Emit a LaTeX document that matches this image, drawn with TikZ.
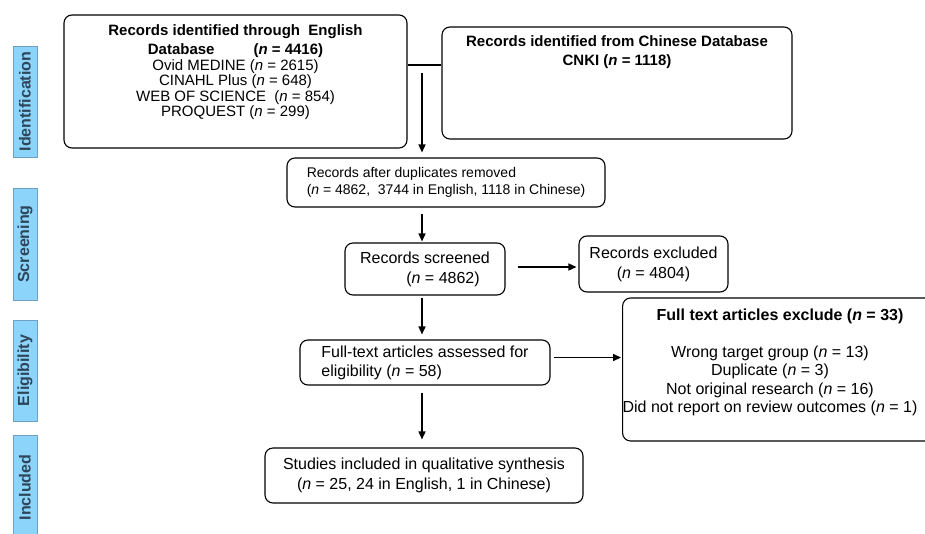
\documentclass[tikz,border=0pt]{standalone}
\usepackage{fontspec}
\setmainfont{Liberation Sans}
\usetikzlibrary{arrows.meta,positioning,calc}

\definecolor{barblue}{RGB}{141,212,251}
\definecolor{barline}{RGB}{110,160,195}
\definecolor{bartext}{RGB}{45,70,90}

\tikzset{
  box/.style={draw, rounded corners=8pt, line width=1.1pt, inner sep=0pt},
  arr/.style={-{Triangle[length=8pt,width=7pt]}, line width=1.4pt},
  phase/.style={draw=barline, fill=barblue, text=bartext, rotate=90, minimum height=24pt,
    inner sep=0pt, font=\fontsize{16}{18}\selectfont\bfseries},
}

\begin{document}
\begin{tikzpicture}[x=1pt, y=-1pt]
    \useasboundingbox (0,0) rectangle (925,533);

    % Phase bars
    \node[phase, minimum width=111pt] (pid) at (25,101.5) {Identification};
    \node[phase, minimum width=112pt] (pscr) at (25,244) {Screening};
    \node[phase, minimum width=101pt] (pelig) at (25,370.5) {Eligibility};
    \node[phase, minimum width=105pt] (pinc) at (25,487.5) {Included};

    % Identification
    \node[box, minimum width=343pt, minimum height=133pt, align=center,
      font=\fontsize{15}{15.5}\selectfont] (eng) at (235.5,81.5)
      {\textbf{Records identified through\ \ English}\\[4pt]
       \textbf{Database\hspace{39pt}(\textit{n} = 4416)}\\
       Ovid MEDINE (\textit{n} = 2615)\\
       CINAHL Plus (\textit{n} = 648)\\
       WEB OF SCIENCE\ \ (\textit{n} = 854)\\
       PROQUEST (\textit{n} = 299)\\[6pt]\mbox{}};
    \node[box, minimum width=350pt, minimum height=112pt, align=center,
      font=\fontsize{15}{19}\selectfont] (chn) at (617,83)
      {\textbf{Records identified from Chinese Database}\\
       \textbf{CNKI (\textit{n} = 1118)}\\[45pt]\mbox{}};

    % Screening
    \node[box, minimum width=318pt, minimum height=49pt, align=left,
      font=\fontsize{14}{17}\selectfont] (dup) at (446,182.5)
      {Records after duplicates removed\\
       (\textit{n} = 4862,\ \ 3744 in English, 1118 in Chinese)};
    \node[box, minimum width=160pt, minimum height=52pt, align=center,
      font=\fontsize{16}{20}\selectfont] (scr) at (425,269)
      {Records screened\\\hspace*{36pt}(\textit{n} = 4862)};
    \node[box, minimum width=149pt, minimum height=56pt, align=center,
      font=\fontsize{16}{20}\selectfont] (exc) at (653.5,264)
      {Records excluded\\(\textit{n} = 4804)};

    % Eligibility
    \node[box, minimum width=250pt, minimum height=45pt, align=left,
      font=\fontsize{16}{19}\selectfont] (ful) at (425,362.5)
      {Full-text articles assessed for\\eligibility (\textit{n} = 58)};
    \node[box, minimum width=317pt, minimum height=143pt,
      font=\fontsize{16}{18.5}\selectfont] (fex) at (781.5,369.5)
      {\begin{tabular}{@{}c@{}}
       \hspace{20pt}\textbf{Full text articles exclude (\textit{n} = 33)}\\[18pt]
       Wrong target group (\textit{n} = 13)\\
       Duplicate (\textit{n} = 3)\\
       Not original research (\textit{n} = 16)\\
       Did not report on review outcomes (\textit{n} = 1)\\[13pt]
       \end{tabular}\rule{23pt}{0pt}};

    % Included
    \node[box, minimum width=318pt, minimum height=55pt, align=center,
      font=\fontsize{16}{20}\selectfont] (stu) at (424,475.5)
      {Studies included in qualitative synthesis\\
       (\textit{n} = 25, 24 in English, 1 in Chinese)};

    % Connectors
    \coordinate (join) at (422,65);
    \draw[line width=1.1pt] (eng.east |- join) -- (chn.west |- join);
    \draw[arr, shorten <=8pt, shorten >=5pt] (join) -- (join |- dup.north);
    \draw[arr, shorten <=6pt, shorten >=1pt] (dup.south -| join) -- (scr.north -| join);
    \draw[arr, shorten <=12pt, shorten >=2pt] ([yshift=2pt]scr.east) -- ([yshift=2pt]scr.east -| exc.west);
    \draw[arr, shorten <=2pt, shorten >=5pt] (scr.south -| join) -- (ful.north -| join);
    \draw[arr, shorten <=3pt, shorten >=1pt] ([yshift=5pt]ful.east) -- ([yshift=5pt]ful.east -| fex.west);
    \draw[arr, shorten <=7pt, shorten >=8pt] (ful.south -| join) -- (stu.north -| join);
\end{tikzpicture}
\end{document}
